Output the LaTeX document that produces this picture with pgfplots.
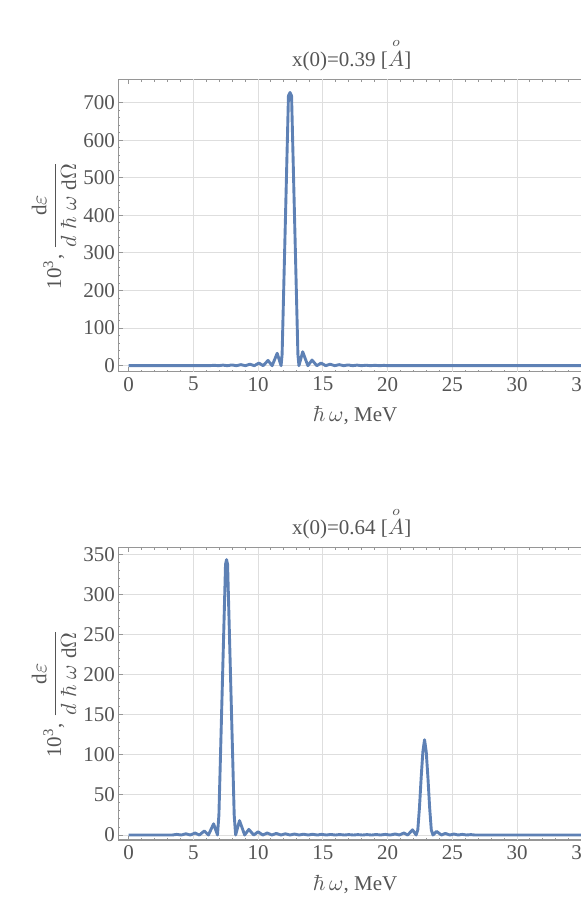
\documentclass[border=0pt]{standalone}
\usepackage{amsmath}
\usepackage{pgfplots}
\pgfplotsset{compat=1.18}
\usepackage[no-math]{fontspec}
\setmainfont{Liberation Serif}

\definecolor{mmablue}{RGB}{94,129,181}
\definecolor{framegray}{RGB}{150,150,150}
\definecolor{labelgray}{RGB}{85,85,85}
\definecolor{gridgray}{RGB}{222,222,222}

% 1 px of the reference = 0.5pt
\pgfplotsset{
  spectrum/.style={
    scale only axis,
    width=238.2pt, height=146.2pt,
    xmin=-0.79, xmax=36,
    font=\fontsize{10.5}{12.6}\selectfont,
    /pgf/number format/assume math mode=true,
    axis line style={framegray, line width=0.6pt},
    every tick/.style={framegray, line width=0.5pt},
    major tick length=2.2pt, minor tick length=1.1pt,
    tick align=inside,
    xtick={0,5,...,35}, minor x tick num=4,
    minor y tick num=4,
    xtick pos=both, ytick pos=both,
    xticklabel pos=left, yticklabel pos=left,
    tick label style={text=labelgray},
    xticklabel style={inner sep=0pt, anchor=north, yshift=-2.5pt},
    yticklabel style={inner sep=0pt, anchor=east, xshift=-1.5pt},
    ymajorgrids=true,
    extra x ticks={5,10,...,35},
    extra x tick labels={},
    extra x tick style={xmajorgrids=true, major tick length=0pt},
    grid style={gridgray, line width=0.5pt},
    xlabel={$\hbar\,\omega$, MeV},
    xlabel style={at={(axis description cs:0.497,-0.1505)}, anchor=center, text=labelgray},
    ylabel={10\textsuperscript{3}, $\dfrac{\text{d}\varepsilon}{d\mkern5mu\hbar\mkern5mu\omega\mkern5mu\text{d}\Omega}$},
    ylabel style={at={(axis description cs:-0.135,0.5)}, anchor=center, text=labelgray},
    every axis title shift=0pt,
    title style={at={(axis description cs:0.49,1.045)}, anchor=base, text=labelgray},
  },
  curve/.style={mmablue, line width=1.45pt, line join=round, no marks},
}

\begin{document}
\begin{tikzpicture}
\useasboundingbox (0,0) rectangle (290.5pt,-452.5pt);

\begin{axis}[
  spectrum,
  at={(59.15pt,-185.85pt)}, anchor=south west,
  ymin=-16, ymax=762,
  ytick={0,100,...,700},
  title={x(0)=0.39 [$\overset{o}{A}$]},
]
\addplot[curve] coordinates {
  (0,0) (6.26,0) (6.60,1.1) (6.95,0) (7.29,1.5) (7.64,0) (7.98,2) (8.33,0)
  (8.68,2.8) (9.02,0) (9.37,4) (9.71,0) (10.07,7) (10.40,0) (10.77,14) (11.09,0)
  (11.48,33) (11.78,0) (11.86,30) (12.35,718) (12.47,727) (12.59,718) (13.08,30)
  (13.16,0) (13.45,37) (13.85,0) (14.17,15) (14.54,0) (14.87,7) (15.23,0)
  (15.57,4) (15.92,0) (16.27,2.8) (16.61,0) (16.96,2) (17.30,0) (17.65,1.5)
  (17.99,0) (18.34,1.2) (18.68,0) (19.03,1) (19.37,0) (19.72,0.8) (20.06,0)
  (36,0)
};
\end{axis}

\begin{axis}[
  spectrum,
  at={(59.15pt,-420pt)}, anchor=south west,
  ymin=-6.25, ymax=359,
  ytick={0,50,...,350},
  title={x(0)=0.64 [$\overset{o}{A}$]},
]
\addplot[curve] coordinates {
  (0,0) (3.37,0) (3.73,0.8) (4.07,0) (4.43,1.5) (4.77,0) (5.14,2.5) (5.47,0)
  (5.85,5) (6.17,0) (6.57,14) (6.87,0) (6.98,25) (7.49,338) (7.57,344)
  (7.65,338) (8.16,25) (8.27,0) (8.57,18) (8.97,0) (9.29,7) (9.67,0) (10.0,4)
  (10.37,0) (10.71,2.5) (11.07,0) (11.41,2) (11.77,0) (12.11,1.5) (12.47,0)
  (12.81,1.2) (13.17,0) (13.51,1) (13.87,0) (14.21,0.9) (14.57,0) (14.91,0.8)
  (15.27,0) (15.61,0.7) (15.97,0) (16.31,0.6) (16.67,0) (17.01,0.5) (17.37,0)
  (17.71,0.5) (18.07,0) (18.42,0.5) (18.77,0) (19.12,0.6) (19.47,0) (19.82,0.8)
  (20.2,0) (20.6,1.3) (20.91,0) (21.26,2.5) (21.56,0) (21.93,6.5) (22.21,0)
  (22.34,6.5) (22.47,35) (22.60,72) (22.73,104) (22.86,119) (22.99,104)
  (23.12,72) (23.25,35) (23.38,6.5) (23.51,0) (23.79,4.5) (24.16,0) (24.46,2)
  (24.81,0) (25.12,1.2) (25.46,0) (25.77,0.8) (26.11,0) (26.43,0.5) (26.76,0)
  (36,0)
};
\end{axis}
\end{tikzpicture}
\end{document}
